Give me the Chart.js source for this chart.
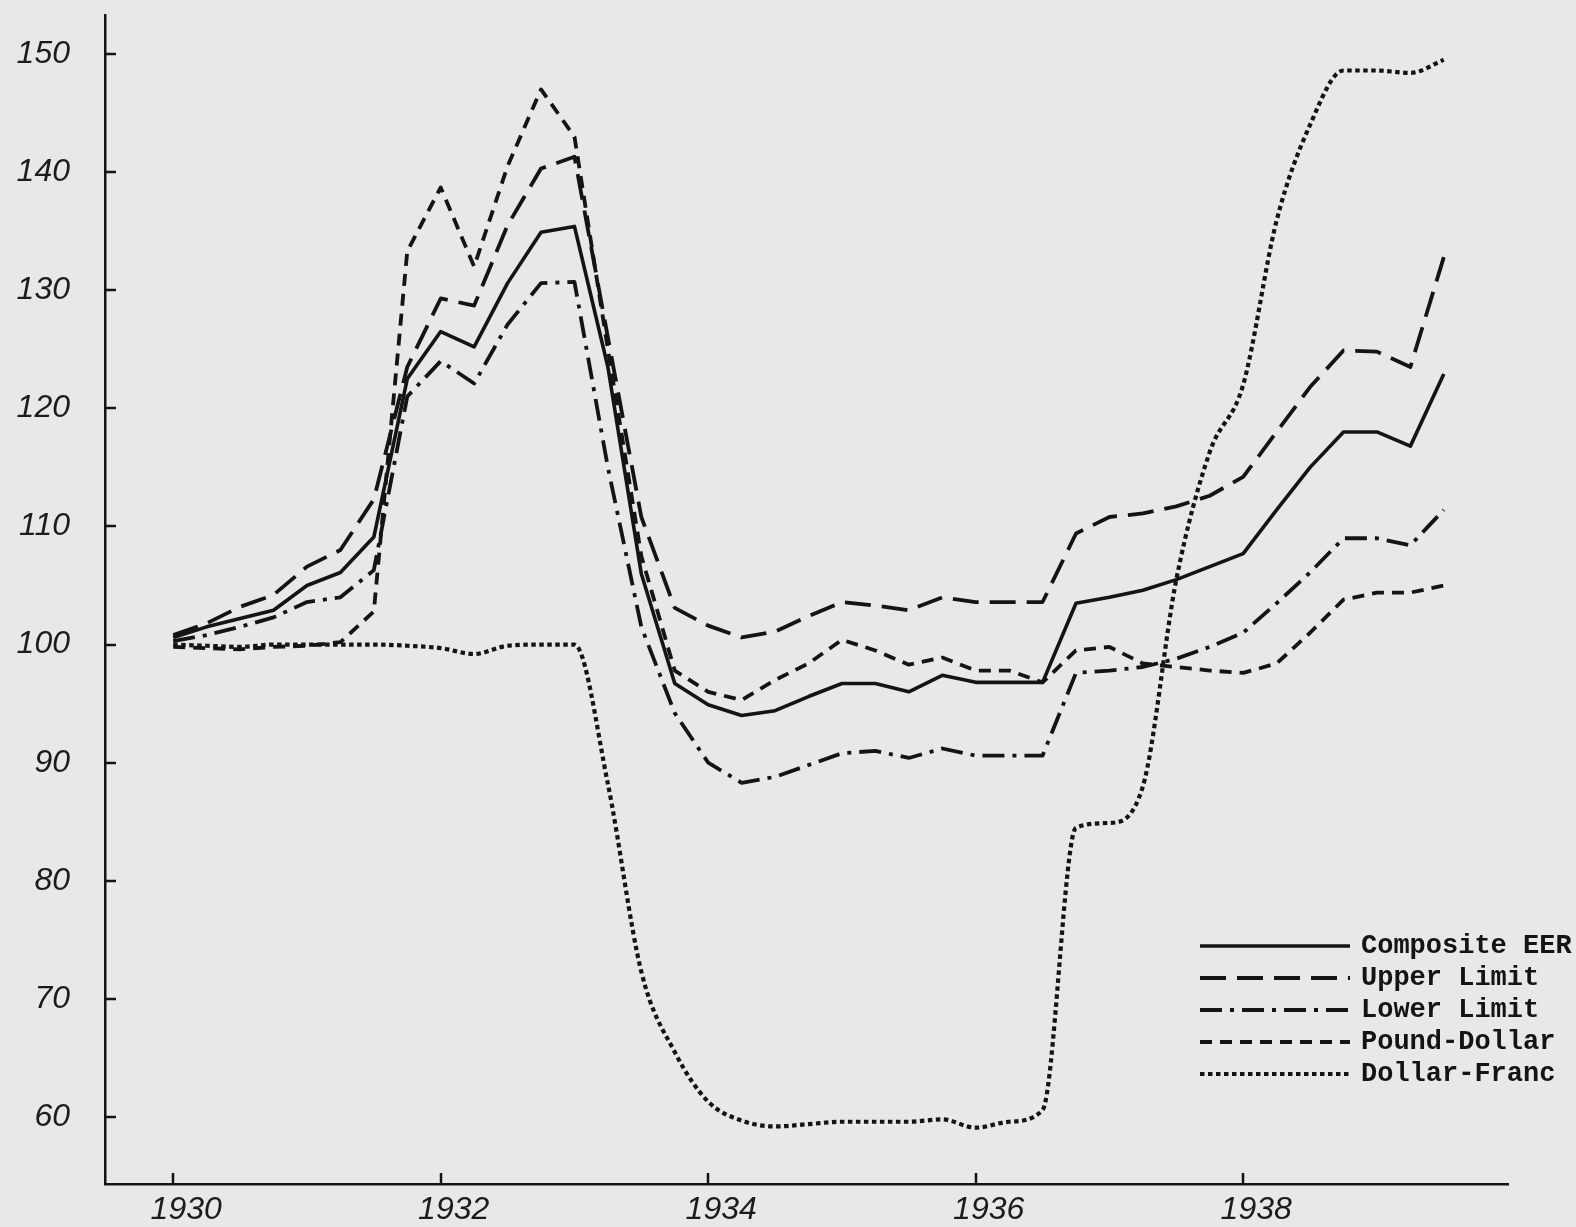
<!DOCTYPE html>
<html>
<head>
<meta charset="utf-8">
<script src="https://cdn.jsdelivr.net/npm/chart.js@4.4.1/dist/chart.umd.min.js"></script>
<style>
  html, body { margin: 0; padding: 0; background: #e8e8e8; }
  #wrap { width: 1576px; height: 1227px; position: relative; }
  canvas { display: block; }
</style>
</head>
<body>
<div id="wrap"><canvas id="c" width="1576" height="1227"></canvas></div>
<script>
// Quarterly observations, 1930 through the third quarter of 1939
const quarters = [
  1930.00, 1930.25, 1930.50, 1930.75,
  1931.00, 1931.25, 1931.50, 1931.75,
  1932.00, 1932.25, 1932.50, 1932.75,
  1933.00, 1933.25, 1933.50, 1933.75,
  1934.00, 1934.25, 1934.50, 1934.75,
  1935.00, 1935.25, 1935.50, 1935.75,
  1936.00, 1936.25, 1936.50, 1936.75,
  1937.00, 1937.25, 1937.50, 1937.75,
  1938.00, 1938.25, 1938.50, 1938.75,
  1939.00, 1939.25, 1939.50
];

const compositeEER = [
  100.6, 101.5, 102.2, 102.9, 105.0, 106.1, 109.1, 122.5,
  126.5, 125.2, 130.6, 134.9, 135.4, 123.5, 106.0, 96.7,
  94.9, 94.0, 94.4, 95.6, 96.7, 96.7, 96.0, 97.4,
  96.8, 96.8, 96.8, 103.5, 104.0, 104.6, 105.5, 106.6,
  107.7, 111.4, 115.0, 118.0, 118.0, 116.8, 122.9
];

const upperLimit = [
  100.8, 101.8, 103.2, 104.2, 106.6, 108.0, 112.3, 123.5,
  129.3, 128.7, 135.5, 140.3, 141.3, 126.0, 110.8, 103.1,
  101.6, 100.6, 101.1, 102.4, 103.6, 103.3, 102.9, 104.0,
  103.6, 103.6, 103.6, 109.4, 110.8, 111.1, 111.7, 112.6,
  114.2, 118.0, 121.8, 124.9, 124.8, 123.5, 132.8
];

const lowerLimit = [
  100.3, 100.8, 101.5, 102.3, 103.6, 104.0, 106.3, 121.0,
  124.0, 122.1, 127.1, 130.6, 130.7, 115.0, 101.5, 94.2,
  90.0, 88.3, 88.8, 89.8, 90.8, 91.0, 90.4, 91.2,
  90.6, 90.6, 90.6, 97.6, 97.8, 98.1, 98.8, 99.8,
  101.0, 103.5, 106.1, 109.0, 109.0, 108.4, 111.4
];

const poundDollar = [
  99.8, 99.7, 99.6, 99.8, 99.9, 100.2, 102.8, 133.3,
  138.7, 132.0, 140.5, 147.0, 143.0, 125.0, 107.5, 97.8,
  96.0, 95.3, 97.0, 98.4, 100.4, 99.5, 98.3, 98.9,
  97.8, 97.8, 96.8, 99.5, 99.8, 98.4, 98.1, 97.8,
  97.6, 98.4, 101.0, 103.8, 104.4, 104.4, 105.0
];

const dollarFranc = [
  100.0, 99.9, 99.8, 100.0, 100.0, 100.0, 100.0, 99.9,
  99.7, 99.2, 99.9, 100.0, 100.0, 88.2, 72.3, 65.5,
  61.3, 59.7, 59.2, 59.4, 59.6, 59.6, 59.6, 59.8,
  59.1, 59.6, 60.6, 84.5, 84.9, 88.0, 105.5, 116.3,
  122.0, 135.9, 144.0, 148.6, 148.6, 148.4, 149.5
];

const xTickYears = [1930, 1932, 1934, 1936, 1938];
const yTickValues = [60, 70, 80, 90, 100, 110, 120, 130, 140, 150];

const seriesNames = ['Composite EER', 'Upper Limit', 'Lower Limit', 'Pound-Dollar', 'Dollar-Franc'];

const INK = '#141414';
const lineStyles = [
  { dash: [],            width: 3.6 },
  { dash: [26, 11],      width: 3.8 },
  { dash: [22, 8, 4, 8], width: 3.8 },
  { dash: [12, 8],       width: 3.8 },
  { dash: [4.5, 3.5],    width: 4.2 }
];

const seriesValues = [compositeEER, upperLimit, lowerLimit, poundDollar, dollarFranc];

const datasets = seriesValues.map((vals, k) => ({
  label: seriesNames[k],
  data: quarters.map((q, i) => ({ x: q, y: vals[i] })),
  borderColor: INK,
  borderWidth: lineStyles[k].width,
  borderDash: lineStyles[k].dash,
  borderCapStyle: 'butt',
  borderJoinStyle: 'round',
  pointRadius: 0,
  fill: false,
  tension: 0,
  cubicInterpolationMode: k === 4 ? 'monotone' : 'default'
}));

const labelFont = { family: '"Liberation Sans", Arial, sans-serif', size: 32, style: 'italic', weight: 'normal' };

// Short inward tick marks on both axes
const innerTicks = {
  id: 'innerTicks',
  afterDraw(chart) {
    const { ctx, chartArea, scales } = chart;
    ctx.save();
    ctx.strokeStyle = INK;
    ctx.lineWidth = 2.5;
    ctx.setLineDash([]);
    yTickValues.forEach(v => {
      const py = Math.round(scales.y.getPixelForValue(v));
      ctx.beginPath();
      ctx.moveTo(chartArea.left, py);
      ctx.lineTo(chartArea.left + 11, py);
      ctx.stroke();
    });
    xTickYears.forEach(v => {
      const px = Math.round(scales.x.getPixelForValue(v));
      ctx.beginPath();
      ctx.moveTo(px, chartArea.bottom);
      ctx.lineTo(px, chartArea.bottom - 11);
      ctx.stroke();
    });
    ctx.restore();
  }
};

// Line-style key in the lower right corner
const styleKey = {
  id: 'styleKey',
  afterDraw(chart) {
    const { ctx } = chart;
    const x0 = 1200, x1 = 1350, textX = 1361, y0 = 946, rowGap = 32;
    ctx.save();
    ctx.font = 'bold 27px "Liberation Mono", "Courier New", monospace';
    ctx.fillStyle = INK;
    ctx.textBaseline = 'middle';
    ctx.textAlign = 'left';
    seriesNames.forEach((name, k) => {
      const y = y0 + k * rowGap;
      ctx.strokeStyle = INK;
      ctx.lineWidth = lineStyles[k].width;
      ctx.lineCap = 'butt';
      ctx.setLineDash(lineStyles[k].dash);
      ctx.beginPath();
      ctx.moveTo(x0, y);
      ctx.lineTo(x1, y);
      ctx.stroke();
      ctx.setLineDash([]);
      ctx.fillText(name, textX, y);
    });
    ctx.restore();
  }
};

new Chart(document.getElementById('c'), {
  type: 'line',
  data: { datasets },
  options: {
    responsive: false,
    animation: false,
    devicePixelRatio: 1,
    layout: { padding: { left: 0, top: 15, right: 68, bottom: 0 } },
    plugins: {
      legend: { display: false },
      tooltip: { enabled: false }
    },
    scales: {
      x: {
        type: 'linear',
        min: 1929.49,
        max: 1939.98,
        grid: { display: false, drawTicks: false },
        border: { display: true, color: INK, width: 2.5 },
        afterBuildTicks(s) { s.ticks = xTickYears.map(v => ({ value: v })); },
        afterFit(s) { s.height = 43; s.paddingLeft = 0; s.paddingRight = 0; },
        ticks: {
          color: '#1c1c1c',
          font: labelFont,
          padding: 7,
          labelOffset: 13,
          maxRotation: 0,
          autoSkip: false,
          callback: v => String(v)
        }
      },
      y: {
        type: 'linear',
        min: 54.33,
        max: 153.3,
        grid: { display: false, drawTicks: false },
        border: { display: true, color: INK, width: 2.5 },
        afterBuildTicks(s) { s.ticks = yTickValues.map(v => ({ value: v })); },
        afterFit(s) { s.width = 105; s.paddingTop = 0; s.paddingBottom = 0; },
        ticks: {
          color: '#1c1c1c',
          font: labelFont,
          padding: 35,
          autoSkip: false,
          callback: v => String(v)
        }
      }
    }
  },
  plugins: [innerTicks, styleKey]
});
</script>
</body>
</html>
